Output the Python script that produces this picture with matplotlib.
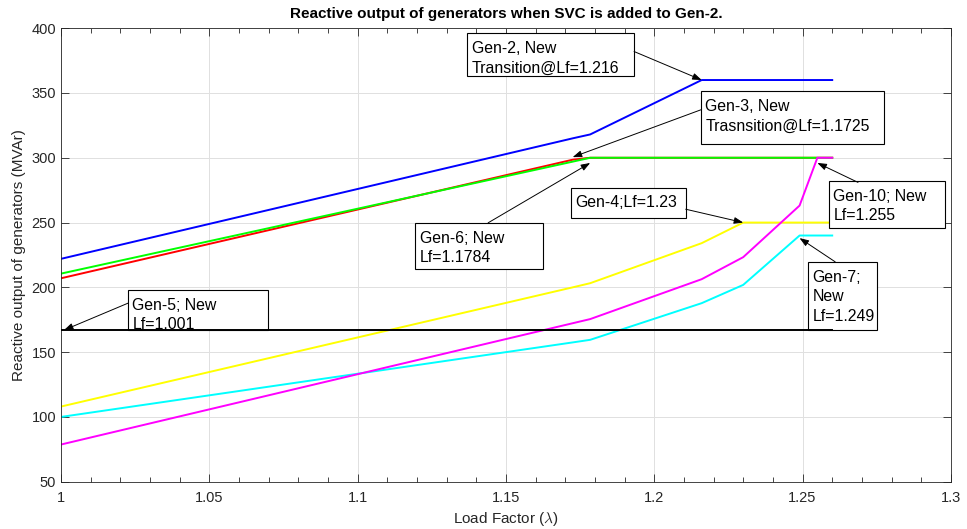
import numpy as np
import matplotlib
matplotlib.use('Agg')
import matplotlib.pyplot as plt
from matplotlib.patches import Rectangle
from matplotlib.ticker import MultipleLocator, FuncFormatter

plt.rcParams['font.family'] = ['Liberation Sans', 'DejaVu Sans']
plt.rcParams['mathtext.fontset'] = 'cm'

# load factor steps (lambda) and reactive output of each generator (MVAr)
load_factor = [1.0, 1.1725, 1.1784, 1.216, 1.23, 1.249, 1.255, 1.26]
q_gen2 = [222, 315, 318, 360, 360, 360, 360, 360]
q_gen3 = [207, 298.5, 300, 300, 300, 300, 300, 300]
q_gen4 = [108, 200, 203.2, 234.1, 250, 250, 250, 250]
q_gen5 = [167, 167, 167, 167, 167, 167, 167, 167]
q_gen6 = [210.6, 297, 300, 300, 300, 300, 300, 300]
q_gen7 = [100, 157.5, 159.5, 187.8, 201.9, 240, 240, 240]
q_gen10 = [78.7, 172.3, 175.5, 206.3, 223.3, 263.1, 300, 300]

# new transition load factors
lf_gen2 = 1.216
lf_gen3 = 1.1725
lf_gen4 = 1.23
lf_gen5 = 1.001
lf_gen6 = 1.1784
lf_gen7 = 1.249
lf_gen10 = 1.255

fig = plt.figure(figsize=(9.67, 5.29), dpi=100)
ax = fig.add_axes([0.0631, 0.0894, 0.9202, 0.8573])

lw = 1.4
ax.plot(load_factor, q_gen2, color='#0000ff', lw=lw)
ax.plot(load_factor, q_gen3, color='#ff0000', lw=lw)
ax.plot(load_factor, q_gen4, color='#ffff00', lw=lw)
ax.plot(load_factor, q_gen6, color='#00ff00', lw=lw)
ax.plot(load_factor, q_gen7, color='#00ffff', lw=lw)
ax.plot(load_factor, q_gen10, color='#ff00ff', lw=lw)
ax.plot(load_factor, q_gen5, color='black', lw=lw, zorder=4)

ax.set_xlim(1, 1.3)
ax.set_ylim(50, 400)
ax.xaxis.set_major_locator(MultipleLocator(0.05))
ax.xaxis.set_minor_locator(MultipleLocator(0.01))
ax.yaxis.set_major_locator(MultipleLocator(50))
ax.xaxis.set_major_formatter(FuncFormatter(lambda v, p: f'{round(v, 4):g}'))

ax.tick_params(which='both', direction='in', top=True, right=True,
               colors='#262626', width=0.6, labelsize=10.5)
ax.tick_params(which='major', length=6)
ax.tick_params(which='minor', length=3.5)
ax.tick_params(axis='x', pad=7)
for sp in ax.spines.values():
    sp.set_color('#262626')
    sp.set_linewidth(0.6)
ax.grid(True, which='major', color='#e0e0e0', lw=0.7)
ax.set_axisbelow(True)

ax.set_xlabel(r'Load Factor ($\lambda$)', fontsize=11, color='#262626', labelpad=3)
ax.set_ylabel('Reactive output of generators (MVAr)', fontsize=11, color='#262626', labelpad=4)
ax.set_title('Reactive output of generators when SVC is added to Gen-2.',
             fontsize=11, fontweight='bold', pad=7)

# text, tip (lf, series, dy), box (x0, x1, ytop, ybot), arrow tail
notes = [
    (f'Gen-2, New\nTransition@Lf={lf_gen2}', lf_gen2, q_gen2, 0,
     (1.1369, 1.1932, 396.4, 363.0), (1.1932, 382.0)),
    (f'Gen-3, New\nTrasnsition@Lf={lf_gen3}', lf_gen3, q_gen3, 2,
     (1.2157, 1.2775, 351.6, 311.0), (1.2157, 337.0)),
    (f'Gen-6; New\nLf={lf_gen6}', lf_gen6, q_gen6, -4,
     (1.1194, 1.1625, 249.8, 214.5), (1.1440, 249.8)),
    (f'Gen-4;Lf={lf_gen4}', lf_gen4, q_gen4, 0,
     (1.1718, 1.2106, 276.5, 253.9), (1.2106, 260.3)),
    (f'Gen-10; New\nLf={lf_gen10}', lf_gen10, q_gen10, -4,
     (1.2589, 1.2980, 282.2, 245.5), (1.2687, 281.0)),
    (f'Gen-7;\nNew\nLf={lf_gen7}', lf_gen7, q_gen7, -2,
     (1.2519, 1.2751, 219.7, 167.0), (1.2610, 219.7)),
    (f'Gen-5; New\nLf={lf_gen5}', lf_gen5, q_gen5, 0,
     (1.0226, 1.0698, 198.1, 167.0), (1.0226, 187.8)),
]

for text, lf, series, dy, (x0, x1, yt, yb), tail in notes:
    tip = (lf, np.interp(lf, load_factor, series) + dy)
    box = Rectangle((x0, yb), x1 - x0, yt - yb, facecolor='white',
                    edgecolor='black', lw=0.8, zorder=3, clip_on=False)
    ax.add_patch(box)
    if '\n' in text:
        t = ax.annotate(text, xy=(x0, yt), xytext=(3.2, -6.0), textcoords='offset points',
                        ha='left', va='top', fontsize=11.4, linespacing=1.36, zorder=3.5)
    else:
        t = ax.annotate(text, xy=(x0, (yt + yb) / 2), xytext=(3.2, 0),
                        textcoords='offset points', ha='left', va='center',
                        fontsize=11.4, zorder=3.5)
    t.set_clip_on(True)
    t.set_clip_path(box)
    ax.annotate('', xy=tip, xytext=tail, annotation_clip=False, zorder=5,
                arrowprops=dict(arrowstyle='-|>,head_length=0.55,head_width=0.2',
                                color='black', lw=0.7, shrinkA=0, shrinkB=0))

fig.savefig('out.png', dpi=100)
